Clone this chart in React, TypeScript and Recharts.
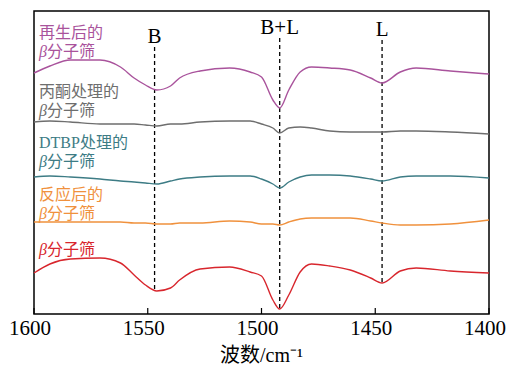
import { LineChart, Line, XAxis, YAxis, ReferenceLine, ReferenceArea } from 'recharts'

// wavenumbers (cm-1), read along the reversed x axis
const wavenumbers = [1600, 1593, 1584, 1571, 1562, 1556, 1551, 1546, 1540, 1536, 1527, 1514, 1505, 1500, 1495, 1492, 1488, 1483, 1478, 1470, 1461, 1452, 1447, 1439, 1432, 1417, 1400]

// stacked spectra, arbitrary offset units
const regenerated = [237, 244, 250, 250, 243, 232, 225, 220, 224, 232, 239, 242, 238, 233, 210, 202, 220, 238, 243, 242, 240, 232, 227, 238, 242, 239, 236]
const acetone = [188, 189, 188, 186, 186, 186, 185, 184, 186, 186, 188, 189, 189, 186, 182, 177, 182, 183, 182, 179, 178, 178, 178, 179, 179, 178, 176]
const dtbp = [133, 134, 133, 131, 129, 128, 127, 126, 129, 131, 133, 134, 134, 131, 126, 122, 128, 133, 135, 135, 134, 131, 129, 133, 134, 134, 132]
const reacted = [88, 88, 88, 88, 88, 87, 87, 86, 86, 87, 87, 89, 88, 86, 86, 85, 88, 91, 92, 92, 92, 89, 87, 85, 85, 86, 90]
const fresh = [37, 46, 51, 52, 47, 35, 25, 19, 22, 30, 41, 43, 38, 34, 10, 1, 15, 38, 46, 44, 40, 32, 27, 39, 42, 39, 37]

const xTicks = [1600, 1550, 1500, 1450, 1400]

// band markers: position, label, dashed segment ends
const bandPos = [1547, 1492, 1447]
const bandNames = ['B', 'B+L', 'L']
const bandTop = [263, 272, 270]
const bandBottom = [19, 1, 25]

const seriesKeys = ['regenerated', 'acetone', 'dtbp', 'reacted', 'fresh']
const seriesColors = ['#a9539c', '#6e6e6e', '#3d7c85', '#f0913d', '#d8262d']
const seriesLabels = [
  ['再生后的', 'β分子筛'],
  ['丙酮处理的', 'β分子筛'],
  ['DTBP处理的', 'β分子筛'],
  ['反应后的', 'β分子筛'],
  ['β分子筛'],
]
const labelTops = [23, 82, 133, 185, 240]

const data = wavenumbers.map((w, i) => ({
  w,
  regenerated: regenerated[i],
  acetone: acetone[i],
  dtbp: dtbp[i],
  reacted: reacted[i],
  fresh: fresh[i],
}))

const serif = '"Liberation Serif", "Times New Roman", "Noto Sans CJK SC", serif'

function Tick(props: any) {
  const { x, y, payload } = props
  return (
    <g>
      <line x1={x} x2={x} y1={y - 6} y2={y} stroke="#000" strokeWidth={1.2} />
      <text x={x - 4} y={y + 21} textAnchor="middle" fontSize={21} fontFamily={serif} fill="#000">
        {payload.value}
      </text>
    </g>
  )
}

function LabelText({ text, color }: { text: string; color: string }) {
  // italic beta, upright CJK
  if (text.startsWith('β')) {
    return (
      <span style={{ color }}>
        <span style={{ fontStyle: 'italic', fontFamily: serif }}>β</span>
        {text.slice(1)}
      </span>
    )
  }
  return <span style={{ color }}>{text}</span>
}

export default function App() {
  return (
    <div style={{ position: 'absolute', left: 0, top: 0, width: 508, height: 365, background: '#fff' }}>
      <LineChart
        width={508}
        height={365}
        data={data}
        margin={{ top: 11, right: 19, left: 34, bottom: 0 }}
      >
        <XAxis
          dataKey="w"
          type="number"
          domain={[1400, 1600]}
          reversed
          ticks={xTicks}
          tickSize={0}
          tickMargin={0}
          tickLine={false}
          axisLine={false}
          tick={<Tick />}
          height={51}
          label={{
            value: '波数/cm⁻¹',
            position: 'insideBottom',
            offset: 3,
            fontSize: 20,
            fontFamily: serif,
            fill: '#000',
          }}
        />
        <YAxis hide type="number" domain={[-4, 299]} />
        <ReferenceArea x1={1600} x2={1400} y1={-4} y2={299} fill="none" stroke="#000" strokeWidth={1.5} />
        {bandPos.map((p, i) => (
          <ReferenceLine
            key={bandNames[i]}
            segment={[{ x: p, y: bandTop[i] }, { x: p, y: bandBottom[i] }]}
            stroke="#000"
            strokeWidth={1.3}
            strokeDasharray="4 3"
            label={{
              value: bandNames[i],
              position: 'top',
              offset: 4,
              fontSize: 21,
              fontFamily: serif,
              fill: '#000',
            }}
          />
        ))}
        {seriesKeys.map((k, i) => (
          <Line
            key={k}
            dataKey={k}
            type="monotone"
            stroke={seriesColors[i]}
            strokeWidth={1.4}
            dot={false}
            isAnimationActive={false}
          />
        ))}
      </LineChart>
      {seriesLabels.map((lines, i) => (
        <div
          key={i}
          style={{
            position: 'absolute',
            left: 39,
            top: labelTops[i],
            fontSize: 16,
            lineHeight: '19px',
            fontFamily: serif,
          }}
        >
          {lines.map((t) => (
            <div key={t}>
              <LabelText text={t} color={seriesColors[i]} />
            </div>
          ))}
        </div>
      ))}
    </div>
  )
}
